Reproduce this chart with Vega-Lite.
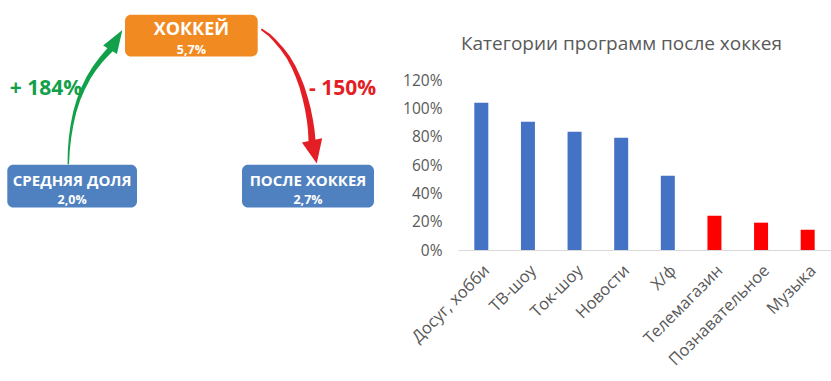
{
  "$schema": "https://vega.github.io/schema/vega-lite/v6.json",
  "padding": {"left": 0, "top": 14, "right": 0, "bottom": 0},
  "bounds": "flush",
  "spacing": 58,
  "config": {"view": {"stroke": null}, "font": "Open Sans"},
  "datasets": {
    "boxes": [
      {"name": "ХОККЕЙ", "value": "5,7%", "x": 125, "x2": 257.7, "y": 14, "y2": 55.7, "kind": "hockey"},
      {"name": "СРЕДНЯЯ ДОЛЯ", "value": "2,0%", "x": 7.3, "x2": 137, "y": 164, "y2": 206.7, "kind": "before"},
      {"name": "ПОСЛЕ ХОККЕЯ", "value": "2,7%", "x": 242, "x2": 374, "y": 164, "y2": 206.7, "kind": "after"}
    ],
    "arrows": [
      {"arrow": "up", "step": 0, "x": 68.3, "y": 163},
      {"arrow": "up", "step": 1, "x": 68.8, "y": 150},
      {"arrow": "up", "step": 2, "x": 70, "y": 137},
      {"arrow": "up", "step": 3, "x": 72, "y": 124},
      {"arrow": "up", "step": 4, "x": 74.8, "y": 111},
      {"arrow": "up", "step": 5, "x": 78.5, "y": 99},
      {"arrow": "up", "step": 6, "x": 83, "y": 88},
      {"arrow": "up", "step": 7, "x": 88.5, "y": 77},
      {"arrow": "up", "step": 8, "x": 94.5, "y": 67.5},
      {"arrow": "up", "step": 9, "x": 101, "y": 59},
      {"arrow": "up", "step": 10, "x": 106, "y": 53.5},
      {"arrow": "up", "step": 11, "x": 110, "y": 49},
      {"arrow": "down", "step": 0, "x": 262, "y": 29},
      {"arrow": "down", "step": 1, "x": 269, "y": 34},
      {"arrow": "down", "step": 2, "x": 275, "y": 40},
      {"arrow": "down", "step": 3, "x": 282, "y": 48},
      {"arrow": "down", "step": 4, "x": 288.3, "y": 56.7},
      {"arrow": "down", "step": 5, "x": 293.5, "y": 66},
      {"arrow": "down", "step": 6, "x": 298.3, "y": 76.7},
      {"arrow": "down", "step": 7, "x": 302, "y": 86.5},
      {"arrow": "down", "step": 8, "x": 305, "y": 96.7},
      {"arrow": "down", "step": 9, "x": 307.8, "y": 108},
      {"arrow": "down", "step": 10, "x": 310, "y": 120},
      {"arrow": "down", "step": 11, "x": 311.3, "y": 130},
      {"arrow": "down", "step": 12, "x": 312, "y": 139.7}
    ],
    "heads": [
      {"arrow": "up", "x": 116.2, "y": 39.2},
      {"arrow": "down", "x": 314.4, "y": 151.2}
    ],
    "changes": [
      {"text": "+ 184%", "x": 46, "y": 88, "arrow": "up"},
      {"text": "- 150%", "x": 342.5, "y": 88, "arrow": "down"}
    ],
    "bars": [
      {"category": "Досуг, хобби", "share": 1.04, "group": "high"},
      {"category": "ТВ-шоу", "share": 0.906, "group": "high"},
      {"category": "Ток-шоу", "share": 0.835, "group": "high"},
      {"category": "Новости", "share": 0.793, "group": "high"},
      {"category": "Х/ф", "share": 0.524, "group": "high"},
      {"category": "Телемагазин", "share": 0.242, "group": "low"},
      {"category": "Познавательное", "share": 0.193, "group": "low"},
      {"category": "Музыка", "share": 0.143, "group": "low"}
    ]
  },
  "hconcat": [
    {
      "width": 400,
      "height": 170,
      "resolve": {"scale": {"size": "independent", "color": "independent"}},
      "layer": [
        {
          "data": {"name": "boxes"},
          "mark": {"type": "rect", "cornerRadius": 6},
          "encoding": {
            "x": {"field": "x", "type": "quantitative", "scale": {"domain": [0, 400], "nice": false, "zero": false}, "axis": null},
            "x2": {"field": "x2"},
            "y": {"field": "y", "type": "quantitative", "scale": {"domain": [79.3, 249.3], "reverse": true, "nice": false, "zero": false}, "axis": null},
            "y2": {"field": "y2"},
            "color": {"field": "kind", "type": "nominal", "scale": {"domain": ["hockey", "before", "after"], "range": ["#F18A21", "#4F81C0", "#4F81C0"]}, "legend": null}
          }
        },
        {
          "data": {"name": "boxes"},
          "transform": [
            {"filter": "datum.kind === 'hockey'"},
            {"calculate": "(datum.x + datum.x2) / 2", "as": "xc"},
            {"calculate": "(datum.y + datum.y2) / 2", "as": "yc"}
          ],
          "mark": {"type": "text", "fontSize": 18, "fontWeight": "bold", "color": "white", "dy": -6, "font": "Open Sans"},
          "encoding": {
            "x": {"field": "xc", "type": "quantitative"},
            "y": {"field": "yc", "type": "quantitative"},
            "text": {"field": "name"}
          }
        },
        {
          "data": {"name": "boxes"},
          "transform": [
            {"filter": "datum.kind !== 'hockey'"},
            {"calculate": "(datum.x + datum.x2) / 2", "as": "xc"},
            {"calculate": "(datum.y + datum.y2) / 2", "as": "yc"}
          ],
          "mark": {"type": "text", "fontSize": 15, "fontWeight": "bold", "color": "white", "dy": -5, "font": "Open Sans"},
          "encoding": {
            "x": {"field": "xc", "type": "quantitative"},
            "y": {"field": "yc", "type": "quantitative"},
            "text": {"field": "name"}
          }
        },
        {
          "data": {"name": "boxes"},
          "transform": [
            {"calculate": "(datum.x + datum.x2) / 2", "as": "xc"},
            {"calculate": "(datum.y + datum.y2) / 2", "as": "yc"}
          ],
          "mark": {"type": "text", "fontSize": 12.5, "fontWeight": "bold", "color": "white", "dy": 14, "font": "Open Sans"},
          "encoding": {
            "x": {"field": "xc", "type": "quantitative"},
            "y": {"field": "yc", "type": "quantitative"},
            "text": {"field": "value"}
          }
        },
        {
          "data": {"name": "arrows"},
          "transform": [{"filter": "datum.arrow === 'up'"}],
          "mark": {"type": "trail", "color": "#12A04A"},
          "encoding": {
            "x": {"field": "x", "type": "quantitative"},
            "y": {"field": "y", "type": "quantitative"},
            "order": {"field": "step", "type": "quantitative"},
            "size": {"field": "step", "type": "quantitative", "scale": {"domain": [0, 11], "range": [1.5, 6]}, "legend": null}
          }
        },
        {
          "data": {"name": "arrows"},
          "transform": [{"filter": "datum.arrow === 'down'"}],
          "mark": {"type": "trail", "color": "#E31E24"},
          "encoding": {
            "x": {"field": "x", "type": "quantitative"},
            "y": {"field": "y", "type": "quantitative"},
            "order": {"field": "step", "type": "quantitative"},
            "size": {"field": "step", "type": "quantitative", "scale": {"domain": [0, 12], "range": [2, 7]}, "legend": null}
          }
        },
        {
          "data": {"name": "heads"},
          "transform": [{"filter": "datum.arrow === 'up'"}],
          "mark": {"type": "point", "shape": "M0,-1L0.7,1L-0.7,1Z", "filled": true, "opacity": 1, "color": "#12A04A", "size": 538, "angle": 32},
          "encoding": {
            "x": {"field": "x", "type": "quantitative"},
            "y": {"field": "y", "type": "quantitative"}
          }
        },
        {
          "data": {"name": "heads"},
          "transform": [{"filter": "datum.arrow === 'down'"}],
          "mark": {"type": "point", "shape": "M0,-1L0.88,1L-0.88,1Z", "filled": true, "opacity": 1, "color": "#E31E24", "size": 552, "angle": 168.5},
          "encoding": {
            "x": {"field": "x", "type": "quantitative"},
            "y": {"field": "y", "type": "quantitative"}
          }
        },
        {
          "data": {"name": "changes"},
          "mark": {"type": "text", "fontSize": 21, "fontWeight": "bold", "font": "Open Sans"},
          "encoding": {
            "x": {"field": "x", "type": "quantitative"},
            "y": {"field": "y", "type": "quantitative"},
            "text": {"field": "text"},
            "color": {"field": "arrow", "type": "nominal", "scale": {"domain": ["up", "down"], "range": ["#12A04A", "#E31E24"]}, "legend": null}
          }
        }
      ]
    },
    {
      "width": 373,
      "height": 170,
      "title": {"text": "Категории программ после хоккея", "fontSize": 19, "fontWeight": "normal", "color": "#595959", "font": "Open Sans", "offset": 19, "dx": -23},
      "data": {"name": "bars"},
      "mark": {"type": "bar"},
      "encoding": {
        "x": {
          "field": "category", "type": "nominal", "sort": null,
          "scale": {"paddingInner": 0.7, "paddingOuter": 0.35},
          "axis": {"title": null, "labelAngle": -45, "labelFontSize": 16.5, "labelColor": "#595959", "labelFont": "Open Sans", "ticks": false, "domainColor": "#D9D9D9", "labelPadding": 12}
        },
        "y": {
          "field": "share", "type": "quantitative",
          "scale": {"domain": [0, 1.2], "nice": false},
          "axis": {"title": null, "values": [0, 0.2, 0.4, 0.6, 0.8, 1, 1.2], "format": ".0%", "grid": false, "domain": false, "ticks": false, "labelFontSize": 15.5, "labelColor": "#595959", "labelFont": "Open Sans", "labelPadding": 16}
        },
        "color": {"field": "group", "type": "nominal", "scale": {"domain": ["high", "low"], "range": ["#4472C4", "#FF0000"]}, "legend": null}
      }
    }
  ]
}
